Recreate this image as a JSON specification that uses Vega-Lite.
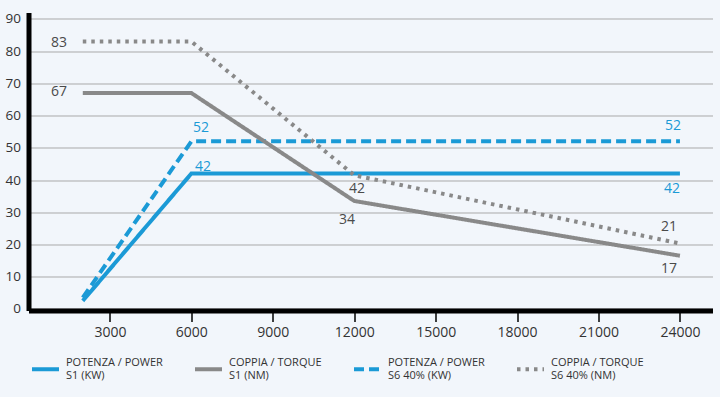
{
  "$schema": "https://vega.github.io/schema/vega-lite/v6.json",
  "width": 684,
  "height": 298,
  "autosize": {"type": "none"},
  "padding": {"left": 28.5, "top": 12.5, "right": 7.5, "bottom": 86.5},
  "background": "#f2f6fb",
  "config": {
    "view": {"stroke": null},
    "font": "Open Sans",
    "axis": {"labelFont": "Open Sans", "labelColor": "#333333", "labelFontSize": 14, "labelOverlap": false}
  },
  "datasets": {
    "lines": [
      {"rpm": 2000, "value": 2.5, "series": "POTENZA / POWER|S1 (KW)"},
      {"rpm": 6000, "value": 42, "series": "POTENZA / POWER|S1 (KW)"},
      {"rpm": 24000, "value": 42, "series": "POTENZA / POWER|S1 (KW)"},
      {"rpm": 2000, "value": 3.5, "series": "POTENZA / POWER|S6 40% (KW)"},
      {"rpm": 6000, "value": 52, "series": "POTENZA / POWER|S6 40% (KW)"},
      {"rpm": 24000, "value": 52, "series": "POTENZA / POWER|S6 40% (KW)"},
      {"rpm": 2000, "value": 67, "series": "COPPIA / TORQUE|S1 (NM)"},
      {"rpm": 6000, "value": 67, "series": "COPPIA / TORQUE|S1 (NM)"},
      {"rpm": 12000, "value": 33.5, "series": "COPPIA / TORQUE|S1 (NM)"},
      {"rpm": 24000, "value": 16.5, "series": "COPPIA / TORQUE|S1 (NM)"},
      {"rpm": 2000, "value": 83, "series": "COPPIA / TORQUE|S6 40% (NM)"},
      {"rpm": 6000, "value": 83, "series": "COPPIA / TORQUE|S6 40% (NM)"},
      {"rpm": 12000, "value": 41.5, "series": "COPPIA / TORQUE|S6 40% (NM)"},
      {"rpm": 24000, "value": 20.3, "series": "COPPIA / TORQUE|S6 40% (NM)"}
    ],
    "labels": [
      {"rpm": 1124, "value": 82.6, "label": "83", "kind": "torque"},
      {"rpm": 1124, "value": 67.3, "label": "67", "kind": "torque"},
      {"rpm": 12104, "value": 37.2, "label": "42", "kind": "torque"},
      {"rpm": 11734, "value": 27.6, "label": "34", "kind": "torque"},
      {"rpm": 23598, "value": 25.4, "label": "21", "kind": "torque"},
      {"rpm": 23598, "value": 12.4, "label": "17", "kind": "torque"},
      {"rpm": 6355, "value": 56.2, "label": "52", "kind": "power"},
      {"rpm": 6429, "value": 44.1, "label": "42", "kind": "power"},
      {"rpm": 23745, "value": 56.8, "label": "52", "kind": "power"},
      {"rpm": 23708, "value": 37.2, "label": "42", "kind": "power"}
    ]
  },
  "encoding": {
    "x": {
      "field": "rpm", "type": "quantitative",
      "scale": {"domain": [0, 25200], "nice": false, "zero": false},
      "axis": {
        "title": null, "values": [3000, 6000, 9000, 12000, 15000, 18000, 21000, 24000],
        "format": "d", "grid": false,
        "domainColor": "#000000", "domainWidth": 5,
        "tickColor": "#000000", "tickWidth": 1.5, "tickSize": 11,
        "labelPadding": 4
      }
    },
    "y": {
      "field": "value", "type": "quantitative",
      "scale": {"domain": [-0.5, 92], "nice": false, "zero": false},
      "axis": {
        "title": null, "values": [0, 10, 20, 30, 40, 50, 60, 70, 80, 90],
        "grid": true, "gridColor": "#a9a9a9", "gridWidth": 1,
        "domainColor": "#000000", "domainWidth": 5, "labelOverlap": false,
        "ticks": false, "labelPadding": 8, "labelFontSize": 13.5
      }
    }
  },
  "layer": [
    {
      "data": {"name": "lines"},
      "mark": {"type": "line", "strokeWidth": 4, "strokeCap": "butt", "strokeJoin": "miter"},
      "encoding": {
        "color": {
          "field": "series", "type": "nominal",
          "scale": {
            "domain": ["POTENZA / POWER|S1 (KW)", "COPPIA / TORQUE|S1 (NM)", "POTENZA / POWER|S6 40% (KW)", "COPPIA / TORQUE|S6 40% (NM)"],
            "range": ["#1b9ad6", "#898989", "#1b9ad6", "#898989"]
          },
          "legend": {
            "title": null, "orient": "none", "legendX": 1.5, "legendY": 341,
            "direction": "horizontal", "columns": 4, "columnPadding": 24,
            "symbolType": "stroke", "symbolSize": 729, "symbolStrokeWidth": 4,
            "labelExpr": "split(datum.label, '|')",
            "labelFont": "Open Sans", "labelFontSize": 11, "labelColor": "#333333",
            "labelOffset": 5, "labelLimit": 200, "padding": 0,
            "encode": {"labels": {"update": {"dy": {"value": -6}, "lineHeight": {"value": 13}}}}
          }
        },
        "strokeDash": {
          "field": "series", "type": "nominal",
          "scale": {
            "domain": ["POTENZA / POWER|S1 (KW)", "COPPIA / TORQUE|S1 (NM)", "POTENZA / POWER|S6 40% (KW)", "COPPIA / TORQUE|S6 40% (NM)"],
            "range": [[1, 0], [1, 0], [10, 5], [3.5, 5]]
          },
          "legend": {
            "title": null, "orient": "none", "legendX": 1.5, "legendY": 341,
            "direction": "horizontal", "columns": 4, "columnPadding": 24,
            "symbolType": "stroke", "symbolSize": 729, "symbolStrokeWidth": 4,
            "labelExpr": "split(datum.label, '|')",
            "labelFont": "Open Sans", "labelFontSize": 11, "labelColor": "#333333",
            "labelOffset": 5, "labelLimit": 200, "padding": 0,
            "encode": {"labels": {"update": {"dy": {"value": -6}, "lineHeight": {"value": 13}}}}
          }
        },
        "order": {"field": "rpm", "type": "quantitative"}
      }
    },
    {
      "data": {"name": "labels"},
      "transform": [{"filter": "datum.kind == 'torque'"}],
      "mark": {"type": "text", "fontSize": 14, "font": "Open Sans", "color": "#4a4a4a", "align": "center", "baseline": "middle"},
      "encoding": {"text": {"field": "label"}}
    },
    {
      "data": {"name": "labels"},
      "transform": [{"filter": "datum.kind == 'power'"}],
      "mark": {"type": "text", "fontSize": 14, "font": "Open Sans", "color": "#1b9ad6", "align": "center", "baseline": "middle"},
      "encoding": {"text": {"field": "label"}}
    }
  ]
}
